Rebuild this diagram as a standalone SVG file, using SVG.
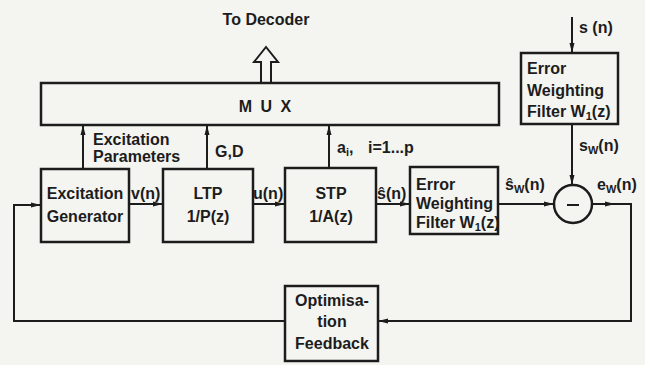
<svg xmlns="http://www.w3.org/2000/svg" width="645" height="365" viewBox="0 0 645 365">
<style>
.bg{fill:#f4f4f1}
.box{fill:none;stroke:#1c1c1c;stroke-width:2.5}
.ln{fill:none;stroke:#1c1c1c;stroke-width:2}
.t{font-family:"Liberation Sans",Arial,sans-serif;font-weight:bold;font-size:16px;fill:#1c1c1c}
.m{text-anchor:middle}
.sub{font-size:11px}
</style>
<defs>
<marker id="ah" markerUnits="userSpaceOnUse" markerWidth="10" markerHeight="6" refX="10" refY="3" orient="auto">
<path d="M0,0.5 L10,3 L0,5.5 z" fill="#1c1c1c"/>
</marker>
</defs>
<rect class="bg" x="0" y="0" width="645" height="365"/>

<g id="connectors">
<path class="ln" d="M129,204 H163" marker-end="url(#ah)"/>
<path class="ln" d="M253,204 H285" marker-end="url(#ah)"/>
<path class="ln" d="M376,204 H410" marker-end="url(#ah)"/>
<path class="ln" d="M498,204 H554" marker-end="url(#ah)"/>
<path class="ln" d="M572,17 V53" marker-end="url(#ah)"/>
<path class="ln" d="M572,124 V185" marker-end="url(#ah)"/>
<path class="ln" d="M592,204 H631 V321 H378" marker-end="url(#ah)"/>
<path class="ln" d="M600,204 H615" marker-end="url(#ah)"/>
<path class="ln" d="M285,321 H14 V205 H41" marker-end="url(#ah)"/>
<path class="ln" d="M83,169 V125" marker-end="url(#ah)"/>
<path class="ln" d="M207,169 V125" marker-end="url(#ah)"/>
<path class="ln" d="M329,168 V125" marker-end="url(#ah)"/>
<path d="M261,83 V62 H254 L266,47 L278,62 H271 V83" fill="#f4f4f1" stroke="#1c1c1c" stroke-width="2"/>
</g>

<g id="mux">
<rect class="box" x="41" y="83" width="458" height="42"/>
<text class="t m" x="266" y="112" style="letter-spacing:2px">M U X</text>
</g>

<g id="to-decoder-label">
<text class="t m" x="266" y="25">To Decoder</text>
</g>

<g id="excitation-generator">
<rect class="box" x="41" y="169" width="88" height="73"/>
<text class="t m" x="85" y="199">Excitation</text>
<text class="t m" x="85" y="222">Generator</text>
</g>

<g id="ltp">
<rect class="box" x="163" y="169" width="90" height="73"/>
<text class="t m" x="208" y="199">LTP</text>
<text class="t m" x="208" y="222">1/P(z)</text>
</g>

<g id="stp">
<rect class="box" x="285" y="168" width="91" height="74"/>
<text class="t m" x="331" y="199">STP</text>
<text class="t m" x="331" y="222">1/A(z)</text>
</g>

<g id="ewf1">
<rect class="box" x="410" y="167" width="88" height="67"/>
<text class="t" x="416" y="190">Error</text>
<text class="t" x="416" y="209">Weighting</text>
<text class="t" x="416" y="228">Filter W<tspan class="sub" dy="3">1</tspan><tspan dy="-3">(z)</tspan></text>
</g>

<g id="ewf2">
<rect class="box" x="521" y="53" width="97" height="71"/>
<text class="t" x="527" y="74">Error</text>
<text class="t" x="527" y="96">Weighting</text>
<text class="t" x="527" y="117">Filter W<tspan class="sub" dy="3">1</tspan><tspan dy="-3">(z)</tspan></text>
</g>

<g id="subtractor">
<circle class="box" cx="573" cy="204" r="19"/>
<path class="ln" d="M567,205 H579"/>
</g>

<g id="optimisation-feedback">
<rect class="box" x="285" y="286" width="93" height="75"/>
<text class="t m" x="332" y="306">Optimisa-</text>
<text class="t m" x="332" y="327">tion</text>
<text class="t m" x="332" y="349">Feedback</text>
</g>

<g id="labels">
<text class="t" x="93" y="145">Excitation</text>
<text class="t" x="93" y="162">Parameters</text>
<text class="t" x="215" y="157">G,D</text>
<text class="t" x="337" y="153">a<tspan class="sub" dy="3">i</tspan><tspan dy="-3">,</tspan><tspan x="368">i=1...p</tspan></text>
<text class="t" x="131" y="199">v(n)</text>
<text class="t" x="253" y="199">u(n)</text>
<text class="t" x="377" y="199">ŝ(n)</text>
<text class="t" x="505" y="190">ŝ<tspan class="sub" dy="3">W</tspan><tspan dy="-3">(n)</tspan></text>
<text class="t" x="579" y="151">s<tspan class="sub" dy="3">W</tspan><tspan dy="-3">(n)</tspan></text>
<text class="t" x="597" y="190">e<tspan class="sub" dy="3">W</tspan><tspan dy="-3">(n)</tspan></text>
<text class="t" x="579" y="33">s (n)</text>
</g>
</svg>
